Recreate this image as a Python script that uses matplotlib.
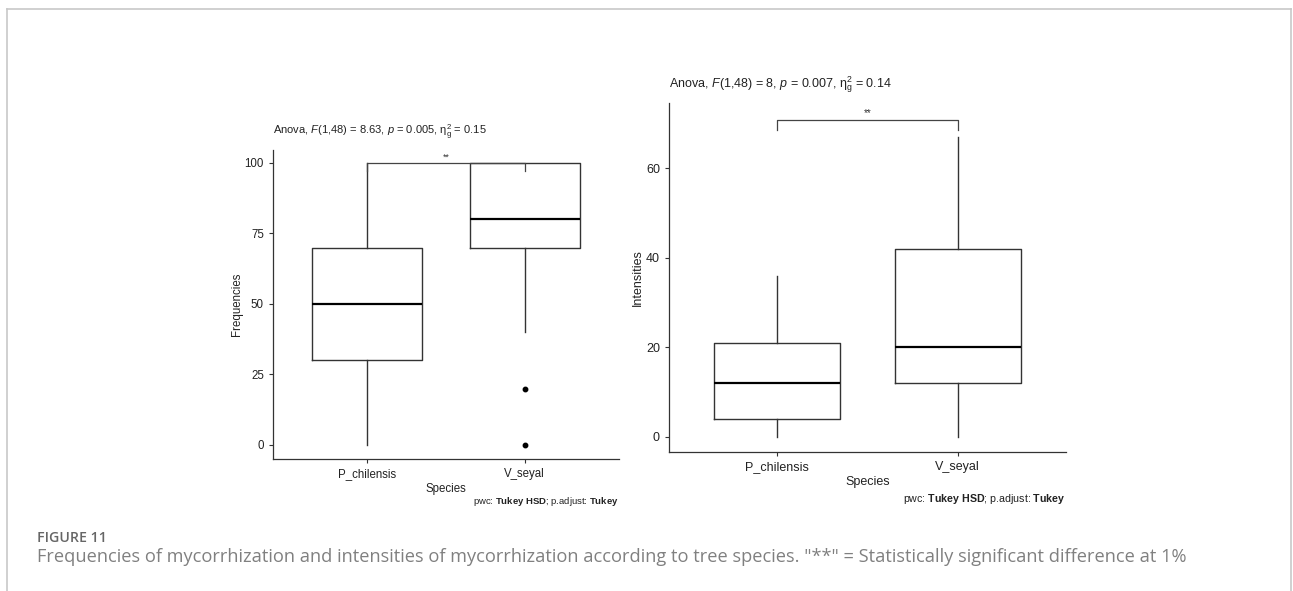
import matplotlib
matplotlib.use("Agg")
import matplotlib.pyplot as plt
from matplotlib.lines import Line2D

plt.rcParams['font.family'] = ['Liberation Sans', 'DejaVu Sans']
plt.rcParams['mathtext.fontset'] = 'custom'
plt.rcParams['mathtext.rm'] = 'Liberation Sans'
plt.rcParams['mathtext.it'] = 'Liberation Sans:italic'
plt.rcParams['mathtext.bf'] = 'Liberation Sans:bold'

# ---- data ----
species = ["P_chilensis", "V_seyal"]

freq_whislo = [0, 40]
freq_q1 = [30, 70]
freq_med = [50, 80]
freq_q3 = [70, 100]
freq_whishi = [100, 100]
freq_fliers = [[], [20, 0]]

int_whislo = [0, 0]
int_q1 = [4, 12]
int_med = [12, 20]
int_q3 = [21, 42]
int_whishi = [36, 67]
int_fliers = [[], []]

freq_title = r"Anova, $\it{F}$(1,48) = 8.63, $\it{p}$ = 0.005, $\mathrm{\eta}^{\mathrm{2}}_{\mathrm{g}}$ = 0.15"
int_title = r"Anova, $\it{F}$(1,48) = 8, $\it{p}$ = 0.007, $\mathrm{\eta}^{\mathrm{2}}_{\mathrm{g}}$ = 0.14"
pwc_text = r"pwc: $\bf{Tukey\ HSD}$; p.adjust: $\bf{Tukey}$"
freq_bracket = 100
int_bracket = 70.8
sig_label = "**"
caption_head = "FIGURE 11"
caption = ('Frequencies of mycorrhization and intensities of mycorrhization according to tree species. '
           '"**" = Statistically significant difference at 1%')

W, H = 1293, 591
fig = plt.figure(figsize=(W / 100, H / 100), dpi=100)
fig.patch.set_facecolor("white")

# frame
fig.add_artist(Line2D([7 / W, 7 / W], [0, 1 - 9 / H], color="#c8c8c8", lw=1.2))
fig.add_artist(Line2D([1291 / W, 1291 / W], [0, 1 - 9 / H], color="#c8c8c8", lw=1.2))
fig.add_artist(Line2D([7 / W, 1291 / W], [1 - 9 / H, 1 - 9 / H], color="#c8c8c8", lw=1.2))


def px_axes(x0, y0, x1, y1):
    return fig.add_axes([x0 / W, 1 - y1 / H, (x1 - x0) / W, (y1 - y0) / H])


def panel(ax, whislo, q1, med, q3, whishi, fliers, ylim, yticks, ylabel, bracket, tip, fs):
    stats = []
    for i in range(len(species)):
        stats.append(dict(med=med[i], q1=q1[i], q3=q3[i], whislo=whislo[i],
                          whishi=whishi[i], fliers=fliers[i]))
    ax.bxp(stats, positions=[1, 2], widths=0.7, showcaps=False, patch_artist=False,
           boxprops=dict(color="#333333", lw=1.0),
           whiskerprops=dict(color="#333333", lw=1.0),
           medianprops=dict(color="black", lw=1.6),
           flierprops=dict(marker="o", markerfacecolor="black", markeredgecolor="black",
                           markersize=3.2))
    ax.set_xlim(0.4, 2.6)
    ax.set_ylim(*ylim)
    ax.set_yticks(yticks)
    ax.set_xticks([1, 2])
    ax.set_xticklabels(species)
    for s in ["top", "right"]:
        ax.spines[s].set_visible(False)
    for s in ["left", "bottom"]:
        ax.spines[s].set_color("#333333")
        ax.spines[s].set_linewidth(0.9)
    ax.tick_params(colors="#333333", labelcolor="#222222", labelsize=fs, length=3, width=0.8)
    ax.set_xlabel("Species", fontsize=fs, color="#222222", labelpad=2)
    ax.set_ylabel(ylabel, fontsize=fs, color="#222222", labelpad=1.5)
    # significance bracket
    ax.plot([1, 1, 2, 2], [bracket - tip, bracket, bracket, bracket - tip], color="#444444", lw=0.9)
    ax.text(1.5, bracket + (ylim[1] - ylim[0]) * 0.005, sig_label, ha="center", va="bottom",
            fontsize=fs - 2, color="#333333")


ax1 = px_axes(273, 150, 619, 459)
panel(ax1, freq_whislo, freq_q1, freq_med, freq_q3, freq_whishi, freq_fliers,
      (-5, 104.6), [0, 25, 50, 75, 100], "Frequencies", freq_bracket, 3, 8.3)

ax2 = px_axes(669, 103, 1066, 452)
panel(ax2, int_whislo, int_q1, int_med, int_q3, int_whishi, int_fliers,
      (-3.4, 74.6), [0, 20, 40, 60], "Intensities", int_bracket, 2.2, 9)

fig.text(273 / W, 1 - 132 / H, freq_title, ha="left", va="center", fontsize=8, color="#222222")
fig.text(669 / W, 1 - 85 / H, int_title, ha="left", va="center", fontsize=9, color="#222222")
fig.text(619 / W, 1 - 501 / H, pwc_text, ha="right", va="center", fontsize=6.8, color="#222222")
fig.text(1066 / W, 1 - 499 / H, pwc_text, ha="right", va="center", fontsize=7.7, color="#222222")

fig.text(37 / W, 1 - 538 / H, caption_head, ha="left", va="center", fontsize=10.2,
         family=["Open Sans", "DejaVu Sans"], fontweight="semibold", color="#666666")
fig.text(37 / W, 1 - 557 / H, caption, ha="left", va="center", fontsize=13.15,
         family=["Open Sans", "DejaVu Sans"], color="#808080")

fig.savefig("out.png", dpi=100, facecolor="white")
